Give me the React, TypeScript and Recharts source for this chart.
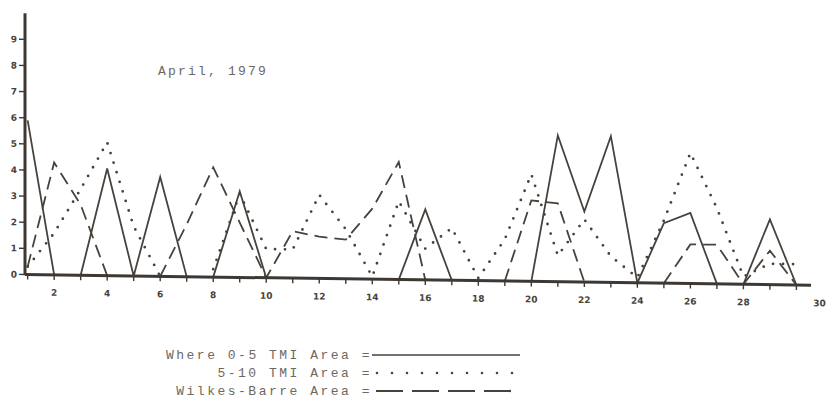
import { LineChart, Line, XAxis, YAxis } from 'recharts';

// days of April 1979
const DAYS = [
  1, 2, 3, 4, 5, 6, 7, 8, 9, 10, 11, 12, 13, 14, 15,
  16, 17, 18, 19, 20, 21, 22, 23, 24, 25, 26, 27, 28, 29, 30,
];

// readings per day, null where a series was not drawn
const TMI_0_5 = [
  5.9, 0, 0, 4.1, 0, 3.8, 0, 0, 3.3, 0, null, null, null, null, 0,
  2.7, 0, null, null, 0, 5.6, 2.7, 5.6, 0, 2.3, 2.7, 0, 0, 2.5, 0,
];
const TMI_5_10 = [
  0.3, 1.6, 3.3, 5.1, 1.9, 0, null, 0.3, 3.2, 1.1, 1.1, 3.2, 1.9, 0.1, 3.0,
  1.2, 2.0, 0.1, 1.6, 4.1, 1.0, 2.4, 1.0, 0.2, 2.4, 5.0, 2.9, 0.3, 0.8, 0.8,
];
const WILKES_BARRE = [
  0.3, 4.3, 2.7, 0, null, 0, 2.0, 4.2, 2.1, 0, 1.8, 1.6, 1.5, 2.7, 4.5,
  0, null, null, 0, 3.1, 3.0, 0, null, null, 0, 1.5, 1.5, 0, 1.3, 0,
];

const Y_TICKS = [0, 1, 2, 3, 4, 5, 6, 7, 8, 9];

const INK = '#48423c';
const AXIS_INK = '#3d3833';
const TEXT_INK = '#6e6862';
const MONO = '"Liberation Mono", "DejaVu Sans Mono", monospace';

const SERIES = [
  { key: 'tmi05', name: '0-5 TMI Area', label: 'Where 0-5 TMI Area =', dash: undefined, width: 1.8, cap: 'butt' },
  { key: 'tmi510', name: '5-10 TMI Area', label: '5-10 TMI Area =', dash: '0 10', width: 2.8, cap: 'round' },
  { key: 'wb', name: 'Wilkes-Barre Area', label: 'Wilkes-Barre Area =', dash: '13 7', width: 1.8, cap: 'butt' },
];

const LEGEND_SAMPLE: Record<string, { dash?: string; width: number; cap: string; x1: number; x2: number }> = {
  tmi05: { width: 1.6, cap: 'butt', x1: 0, x2: 148 },
  tmi510: { dash: '0 15', width: 2.6, cap: 'round', x1: 5, x2: 141 },
  wb: { dash: '27 9', width: 2.2, cap: 'butt', x1: 4, x2: 140 },
};

const data = DAYS.map((day, i) => ({
  day,
  tmi05: TMI_0_5[i],
  tmi510: TMI_5_10[i],
  wb: WILKES_BARRE[i],
}));

function DayTick({ x, y, payload }: any) {
  const day = payload.value;
  const shift = day === 30 ? 23 : 0;
  return (
    <g>
      <line x1={x} y1={y} x2={x} y2={y + 5} stroke={AXIS_INK} strokeWidth={1.4} />
      {day % 2 === 0 && (
        <text
          x={x + shift}
          y={y + 21}
          textAnchor="middle"
          fontSize={9}
          fontWeight={600}
          fontFamily="DejaVu Sans, sans-serif"
          fill={INK}
        >
          {day}
        </text>
      )}
    </g>
  );
}

function Key() {
  return (
    <div
      style={{
        position: 'absolute',
        left: 150,
        top: 346,
        fontFamily: MONO,
        fontSize: 13,
        letterSpacing: 2.5,
        color: TEXT_INK,
      }}
    >
      {SERIES.map((s) => {
        const sample = LEGEND_SAMPLE[s.key];
        return (
          <div key={s.key} style={{ display: 'flex', alignItems: 'center', height: 18 }}>
            <span style={{ width: 222, textAlign: 'right', whiteSpace: 'pre' }}>{s.label}</span>
            <svg width={150} height={10}>
              <line
                x1={sample.x1}
                y1={5}
                x2={sample.x2}
                y2={5}
                stroke={INK}
                strokeWidth={sample.width}
                strokeDasharray={sample.dash}
                strokeLinecap={sample.cap as any}
              />
            </svg>
          </div>
        );
      })}
    </div>
  );
}

export default function App() {
  return (
    <div
      style={{
        position: 'absolute',
        left: 0,
        top: 0,
        width: 835,
        height: 405,
        background: '#ffffff',
        overflow: 'hidden',
      }}
    >
      {/* the hand drawn day axis runs slightly downhill */}
      <style>{`.apr79 .recharts-surface { transform: skewY(0.78deg); transform-origin: 25px 274.5px; }`}</style>
      <LineChart
        className="apr79"
        width={835}
        height={405}
        data={data}
        margin={{ top: 13.2, right: 24, left: 0, bottom: 100.5 }}
      >
        <XAxis
          dataKey="day"
          type="number"
          domain={[0.9, 30.55]}
          ticks={DAYS}
          interval={0}
          height={30}
          tickSize={0}
          tickMargin={0}
          tickLine={false}
          tick={<DayTick />}
          axisLine={{ stroke: AXIS_INK, strokeWidth: 3 }}
        />
        <YAxis
          type="number"
          domain={[0, 10]}
          ticks={Y_TICKS}
          interval={0}
          width={25}
          tickSize={6}
          tickMargin={2}
          tickLine={{ stroke: AXIS_INK, strokeWidth: 1.4 }}
          axisLine={{ stroke: AXIS_INK, strokeWidth: 3 }}
          tick={{ fontSize: 9, fontWeight: 600, fill: INK, fontFamily: 'DejaVu Sans, sans-serif' }}
        />
        {SERIES.map((s) => (
          <Line
            key={s.key}
            type="linear"
            dataKey={s.key}
            name={s.name}
            stroke={INK}
            strokeWidth={s.width}
            strokeDasharray={s.dash}
            strokeLinecap={s.cap as any}
            strokeLinejoin="miter"
            dot={false}
            activeDot={false}
            isAnimationActive={false}
          />
        ))}
      </LineChart>
      <Key />
      <div
        style={{
          position: 'absolute',
          left: 158,
          top: 63,
          fontFamily: MONO,
          fontSize: 13,
          letterSpacing: 2.2,
          lineHeight: '18px',
          color: TEXT_INK,
          whiteSpace: 'pre',
        }}
      >
        April, 1979
      </div>
    </div>
  );
}
